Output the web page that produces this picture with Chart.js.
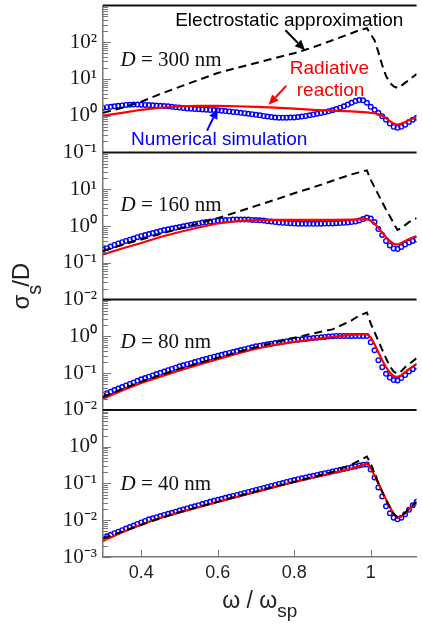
<!DOCTYPE html>
<html>
<head>
<meta charset="utf-8">
<script src="https://cdn.jsdelivr.net/npm/chart.js@4.4.0/dist/chart.umd.min.js"></script>
<style>
  html, body { margin: 0; padding: 0; background: #fff; }
  #wrap { position: relative; width: 422px; height: 633px; }
</style>
</head>
<body>
<div id="wrap"><canvas id="grafico"></canvas></div>
<script>
// Eixo x: frequência normalizada ω / ωsp
const xSim = [
  0.30, 0.31, 0.32, 0.33, 0.34, 0.35, 0.36, 0.37, 0.38, 0.39,
  0.40, 0.41, 0.42, 0.43, 0.44, 0.45, 0.46, 0.47, 0.48, 0.49,
  0.50, 0.51, 0.52, 0.53, 0.54, 0.55, 0.56, 0.57, 0.58, 0.59,
  0.60, 0.61, 0.62, 0.63, 0.64, 0.65, 0.66, 0.67, 0.68, 0.69,
  0.70, 0.71, 0.72, 0.73, 0.74, 0.75, 0.76, 0.77, 0.78, 0.79,
  0.80, 0.81, 0.82, 0.83, 0.84, 0.85, 0.86, 0.87, 0.88, 0.89,
  0.90, 0.91, 0.92, 0.93, 0.94, 0.95, 0.96, 0.97, 0.98, 0.99,
  1.00, 1.01, 1.02, 1.03, 1.04, 1.05, 1.06, 1.07, 1.08, 1.09,
  1.10, 1.11, 1.12
];
const xLine = [
  0.30, 0.35, 0.40, 0.45, 0.50, 0.55, 0.60, 0.65, 0.70, 0.75, 0.80, 0.85, 0.90, 0.95,
  0.97, 0.99, 1.00, 1.01, 1.02, 1.03, 1.04, 1.05, 1.06, 1.07, 1.08, 1.09, 1.10, 1.12
];
const xTicks = [0.4, 0.6, 0.8, 1];

// D = 300 nm
const sim300 = [
  1.65, 1.70, 1.75, 1.81, 1.86, 1.91, 1.96, 1.98, 2.01, 2.01,
  2.00, 1.97, 1.95, 1.92, 1.89, 1.86, 1.83, 1.80, 1.75, 1.71,
  1.67, 1.62, 1.58, 1.55, 1.52, 1.50, 1.48, 1.46, 1.44, 1.43,
  1.41, 1.37, 1.34, 1.31, 1.27, 1.24, 1.20, 1.17, 1.13, 1.10,
  1.06, 1.025, 0.988, 0.951, 0.917, 0.894, 0.883, 0.883, 0.883, 0.889,
  0.900, 0.922, 0.951, 0.988, 1.03, 1.08, 1.13, 1.19, 1.25, 1.32,
  1.41, 1.52, 1.65, 1.81, 2.01, 2.25, 2.50, 2.67, 2.62, 2.25,
  1.75, 1.45, 1.20, 0.97, 0.78, 0.61, 0.50, 0.47, 0.50, 0.57,
  0.67, 0.78, 0.88
];
const rad300 = [1.0, 1.2, 1.45, 1.65, 1.81, 1.86, 1.86, 1.81, 1.75, 1.65, 1.55, 1.45, 1.37, 1.32,
  1.28, 1.24, 1.2, 1.17, 1.1, 1.0, 0.86, 0.71, 0.61, 0.57, 0.61, 0.67, 0.76, 0.91];
const es300 = [1.2, 1.65, 2.4, 3.9, 6.1, 9.4, 14.5, 20, 27, 37, 50, 73, 113, 175,
  211, 239, 164, 113, 54, 24, 12.1, 7.8, 6.3, 5.7, 6.5, 7.8, 9.4, 13.7];

// D = 160 nm
const sim160 = [
  0.229, 0.253, 0.279, 0.307, 0.337, 0.364, 0.393, 0.425, 0.459, 0.497,
  0.537, 0.571, 0.608, 0.647, 0.689, 0.733, 0.780, 0.818, 0.856, 0.897,
  0.940, 0.985, 1.03, 1.08, 1.13, 1.18, 1.24, 1.28, 1.32, 1.36,
  1.41, 1.43, 1.45, 1.47, 1.50, 1.50, 1.50, 1.50, 1.50, 1.47,
  1.45, 1.43, 1.41, 1.36, 1.32, 1.28, 1.24, 1.22, 1.205, 1.19,
  1.17, 1.16, 1.15, 1.15, 1.15, 1.15, 1.15, 1.16, 1.17, 1.175,
  1.18, 1.19, 1.205, 1.22, 1.24, 1.28, 1.32, 1.42, 1.55, 1.70,
  1.60, 1.28, 0.83, 0.571, 0.393, 0.297, 0.246, 0.239, 0.271, 0.316,
  0.358, 0.393, 0.432
];
const rad160 = [0.168, 0.246, 0.347, 0.504, 0.689, 0.911, 1.17, 1.365, 1.45, 1.48, 1.48, 1.48, 1.48, 1.50,
  1.52, 1.55, 1.41, 1.17, 0.883, 0.667, 0.504, 0.393, 0.326, 0.312, 0.347, 0.393, 0.445, 0.537];
const es160 = [0.211, 0.306, 0.432, 0.608, 0.856, 1.17, 1.645, 2.39, 3.54, 5.2, 7.8, 11.3, 17, 25.4,
  28.8, 32.6, 18.2, 11.3, 7.15, 4.45, 2.81, 1.86, 1.18, 0.78, 0.88, 1.06, 1.28, 1.65];

// D = 80 nm
const sim80 = [
  0.0259, 0.0285, 0.0314, 0.0346, 0.0381, 0.0420, 0.0462, 0.0509, 0.0560, 0.0617,
  0.0680, 0.0737, 0.0799, 0.0867, 0.0940, 0.102, 0.110, 0.120, 0.130, 0.141,
  0.153, 0.163, 0.175, 0.187, 0.201, 0.215, 0.230, 0.246, 0.264, 0.280,
  0.297, 0.315, 0.334, 0.355, 0.376, 0.399, 0.424, 0.449, 0.477, 0.506,
  0.537, 0.559, 0.582, 0.606, 0.631, 0.657, 0.684, 0.712, 0.742, 0.772,
  0.792, 0.812, 0.832, 0.853, 0.875, 0.897, 0.920, 0.943, 0.966, 0.991,
  1.01, 1.025, 1.025, 1.025, 1.025, 1.025, 1.025, 1.025, 1.025, 1.03,
  0.689, 0.418, 0.225, 0.145, 0.0958, 0.0755, 0.0647, 0.0635, 0.0732, 0.0883,
  0.110, 0.128, 0.150
];
const rad80 = [0.0202, 0.0337, 0.0537, 0.0804, 0.118, 0.170, 0.239, 0.337, 0.459, 0.589, 0.710, 0.830, 0.969, 1.098,
  1.133, 1.154, 0.94, 0.608, 0.369, 0.225, 0.145, 0.103, 0.0829, 0.0781, 0.0883, 0.1065, 0.128, 0.178];
const es80 = [0.0225, 0.0369, 0.0589, 0.0883, 0.132, 0.186, 0.262, 0.369, 0.504, 0.689, 0.911, 1.205, 1.55, 2.71,
  3.69, 4.45, 2.25, 1.30, 0.751, 0.434, 0.254, 0.155, 0.110, 0.0958, 0.113, 0.145, 0.175, 0.254];

// D = 40 nm
const sim40 = [
  0.00332, 0.00366, 0.00403, 0.00444, 0.00489, 0.00538, 0.00593, 0.00653, 0.00719, 0.00792,
  0.00872, 0.00960, 0.0106, 0.0113, 0.0121, 0.0130, 0.0139, 0.0149, 0.0159, 0.0171,
  0.0183, 0.0196, 0.0210, 0.0225, 0.0240, 0.0257, 0.0276, 0.0295, 0.0316, 0.0337,
  0.0358, 0.0381, 0.0406, 0.0432, 0.0459, 0.0489, 0.0520, 0.0553, 0.0589, 0.0627,
  0.0667, 0.0710, 0.0755, 0.0804, 0.0856, 0.0911, 0.0969, 0.103, 0.110, 0.117,
  0.124, 0.131, 0.138, 0.146, 0.154, 0.162, 0.171, 0.180, 0.190, 0.200,
  0.211, 0.223, 0.235, 0.247, 0.261, 0.275, 0.290, 0.306, 0.322, 0.330,
  0.239, 0.145, 0.0780, 0.0445, 0.0239, 0.0155, 0.0117, 0.0106, 0.0117, 0.0145,
  0.0192, 0.0254, 0.0316
];
const rad40 = [0.00271, 0.00474, 0.00756, 0.0117, 0.0165, 0.0225, 0.0316, 0.0432, 0.0589, 0.0804, 0.110, 0.145, 0.192, 0.254,
  0.297, 0.347, 0.262, 0.165, 0.1, 0.0608, 0.0369, 0.0232, 0.0150, 0.0117, 0.0124, 0.0155, 0.0198, 0.0307];
const es40 = [0.00316, 0.00489, 0.00756, 0.0113, 0.0165, 0.0232, 0.0316, 0.0445, 0.0608, 0.0829, 0.110, 0.150, 0.204, 0.326,
  0.418, 0.537, 0.347, 0.186, 0.103, 0.0589, 0.0348, 0.0225, 0.0150, 0.0120, 0.0128, 0.0159, 0.0204, 0.0316];

// Ticks do eixo y (décadas) de cada painel
const ticks300 = [0.1, 1, 10, 100];
const ticks160 = [0.01, 0.1, 1, 10];
const ticks80 = [0.01, 0.1, 1];
const ticks40 = [0.001, 0.01, 0.1, 1];

const paineis = [
  { id: "y300", d: "300", min: 0.1, max: 1000, ticks: ticks300, sim: sim300, rad: rad300, es: es300, labelY: 32.6 },
  { id: "y160", d: "160", min: 0.01, max: 100, ticks: ticks160, sim: sim160, rad: rad160, es: es160, labelY: 3.7 },
  { id: "y80", d: "80", min: 0.01, max: 10, ticks: ticks80, sim: sim80, rad: rad80, es: es80, labelY: 0.69 },
  { id: "y40", d: "40", min: 0.001, max: 10, ticks: ticks40, sim: sim40, rad: rad40, es: es40, labelY: 0.094 },
];

// Textos e setas do painel de cima
const notas = [
  { text: "Electrostatic approximation", x: 0.787, y: 393, color: "#000" },
  { text: "Radiative", x: 0.892, y: 18.6, color: "#f00" },
  { text: "reaction", x: 0.895, y: 4.74, color: "#f00" },
  { text: "Numerical simulation", x: 0.604, y: 0.224, color: "#00f" },
];
const setas = [
  { from: [0.777, 211], to: [0.828, 60.8], color: "#000" },
  { from: [0.779, 6.47], to: [0.733, 1.98], color: "#f00" },
  { from: [0.572, 0.393], to: [0.600, 1.55], color: "#00f" },
];

const sup = { "-": "\u207B", "0": "\u2070", "1": "\u00B9", "2": "\u00B2", "3": "\u00B3" };
function rotuloPotencia(v) {
  const e = Math.round(Math.log10(v));
  return "10" + String(e).split("").map((c) => sup[c]).join("");
}

const datasets = [];
paineis.forEach((p) => {
  datasets.push({
    label: "Electrostatic approximation " + p.d,
    data: xLine.map((x, i) => ({ x: x, y: p.es[i] })),
    yAxisID: p.id,
    borderColor: "#000",
    borderWidth: 2,
    borderDash: [8, 5],
    pointRadius: 0,
    tension: 0,
  });
  datasets.push({
    label: "Radiative reaction " + p.d,
    data: xLine.map((x, i) => ({ x: x, y: p.rad[i] })),
    yAxisID: p.id,
    borderColor: "#ff0000",
    borderWidth: 2.2,
    pointRadius: 0,
    tension: 0,
  });
  datasets.push({
    label: "Numerical simulation " + p.d,
    data: xSim.map((x, i) => ({ x: x, y: p.sim[i] })),
    yAxisID: p.id,
    showLine: false,
    pointStyle: "circle",
    pointRadius: 2.3,
    pointBorderWidth: 1.4,
    pointBorderColor: "#0000ff",
    pointBackgroundColor: "rgba(0,0,0,0)",
  });
});

const scales = {
  x: {
    type: "linear",
    position: "bottom",
    min: 0.3,
    max: 1.12,
    grid: { display: false, drawTicks: false },
    border: { color: "#777", width: 1.5 },
    ticks: {
      font: { family: "'Liberation Sans', Arial", size: 18 },
      color: "#222",
      padding: 5,
      callback: (v) => String(v),
    },
    afterBuildTicks: (s) => { s.ticks = xTicks.map((v) => ({ value: v })); },
    afterFit: (s) => { s.height = 76; s.paddingLeft = 0; s.paddingRight = 0; },
  },
};
paineis.forEach((p, i) => {
  scales[p.id] = {
    type: "logarithmic",
    position: "left",
    stack: "paineis",
    stackWeight: Math.round(Math.log10(p.max / p.min)),
    weight: 4 - i,
    min: p.min,
    max: p.max,
    grid: { display: false, drawTicks: false },
    border: { color: "#777", width: 1.5 },
    ticks: {
      autoSkip: false,
      font: { family: "'Liberation Serif', 'Times New Roman'", size: 21 },
      color: "#1a1a1a",
      padding: 6,
      callback: (v) => rotuloPotencia(v),
    },
    afterBuildTicks: (s) => { s.ticks = p.ticks.map((v) => ({ value: v })); },
    afterFit: (s) => { s.width = 103; s.paddingTop = 0; s.paddingBottom = 0; },
  };
});

function seta(ctx, x1, y1, x2, y2, cor) {
  const ang = Math.atan2(y2 - y1, x2 - x1);
  const L = 10, W = 4.5;
  const bx = x2 - L * Math.cos(ang), by = y2 - L * Math.sin(ang);
  ctx.strokeStyle = cor;
  ctx.fillStyle = cor;
  ctx.lineWidth = 2;
  ctx.beginPath();
  ctx.moveTo(x1, y1);
  ctx.lineTo(bx, by);
  ctx.stroke();
  ctx.beginPath();
  ctx.moveTo(x2, y2);
  ctx.lineTo(bx + W * Math.sin(ang), by - W * Math.cos(ang));
  ctx.lineTo(bx - W * Math.sin(ang), by + W * Math.cos(ang));
  ctx.closePath();
  ctx.fill();
}

// Ticks para dentro, divisórias, textos e títulos
const decoracao = {
  id: "decoracao",
  afterDraw(chart) {
    const ctx = chart.ctx;
    const area = chart.chartArea;
    const sx = chart.scales.x;
    ctx.save();

    // ticks menores e maiores para dentro
    ctx.strokeStyle = "#777";
    ctx.lineWidth = 1;
    paineis.forEach((p) => {
      const s = chart.scales[p.id];
      for (let e = Math.round(Math.log10(p.min)); e < Math.round(Math.log10(p.max)); e++) {
        for (let k = 1; k <= 9; k++) {
          const py = Math.round(s.getPixelForValue(k * Math.pow(10, e))) + 0.5;
          const len = k === 1 ? 8 : 5;
          ctx.beginPath();
          ctx.moveTo(area.left, py);
          ctx.lineTo(area.left + len, py);
          ctx.stroke();
        }
      }
    });
    xTicks.forEach((v) => {
      const px = Math.round(sx.getPixelForValue(v)) + 0.5;
      ctx.beginPath();
      ctx.moveTo(px, area.bottom);
      ctx.lineTo(px, area.bottom - 7);
      ctx.stroke();
    });

    // divisórias entre painéis
    ctx.strokeStyle = "#111";
    ctx.lineWidth = 2;
    paineis.forEach((p) => {
      const s = chart.scales[p.id];
      ctx.beginPath();
      ctx.moveTo(area.left, s.top);
      ctx.lineTo(area.right, s.top);
      ctx.stroke();
    });

    // D = ... nm
    ctx.textBaseline = "middle";
    ctx.textAlign = "left";
    ctx.fillStyle = "#111";
    paineis.forEach((p) => {
      const s = chart.scales[p.id];
      const x0 = sx.getPixelForValue(0.346);
      const y0 = s.getPixelForValue(p.labelY);
      ctx.font = "italic 21px 'Liberation Serif'";
      ctx.fillText("D", x0, y0);
      const w = ctx.measureText("D").width;
      ctx.font = "21px 'Liberation Serif'";
      ctx.fillText(" = " + p.d + " nm", x0 + w, y0);
    });

    // textos e setas do painel de cima
    const s1 = chart.scales.y300;
    ctx.textAlign = "center";
    ctx.font = "19px 'Liberation Sans'";
    notas.forEach((n) => {
      ctx.fillStyle = n.color;
      ctx.fillText(n.text, sx.getPixelForValue(n.x), s1.getPixelForValue(n.y));
    });
    setas.forEach((a) => {
      seta(ctx,
        sx.getPixelForValue(a.from[0]), s1.getPixelForValue(a.from[1]),
        sx.getPixelForValue(a.to[0]), s1.getPixelForValue(a.to[1]), a.color);
    });

    // título do eixo x: ω / ωsp
    ctx.fillStyle = "#222";
    ctx.textAlign = "left";
    ctx.textBaseline = "alphabetic";
    ctx.font = "23px 'Liberation Sans'";
    const tx = "\u03C9 / \u03C9";
    const w1 = ctx.measureText(tx).width;
    ctx.font = "19px 'Liberation Sans'";
    const w2 = ctx.measureText("sp").width;
    const cx = (area.left + area.right) / 2;
    const base = 608;
    ctx.font = "23px 'Liberation Sans'";
    ctx.fillText(tx, cx - (w1 + w2) / 2, base);
    ctx.font = "19px 'Liberation Sans'";
    ctx.fillText("sp", cx - (w1 + w2) / 2 + w1, base + 9);

    // título do eixo y: σs/D
    ctx.translate(29, (area.top + area.bottom) / 2 + 5);
    ctx.rotate(-Math.PI / 2);
    ctx.font = "24px 'Liberation Sans'";
    const ws = ctx.measureText("\u03C3").width;
    const wd = ctx.measureText("/D").width;
    ctx.font = "20px 'Liberation Sans'";
    const wsub = ctx.measureText("s").width - 2;
    let px = -(ws + wsub + wd) / 2;
    ctx.font = "24px 'Liberation Sans'";
    ctx.fillText("\u03C3", px, 0);
    px += ws;
    ctx.font = "20px 'Liberation Sans'";
    ctx.fillText("s", px, 12);
    px += wsub;
    ctx.font = "24px 'Liberation Sans'";
    ctx.fillText("/D", px, 0);

    ctx.restore();
  },
};

const ctx = document.getElementById("grafico").getContext("2d");

const grafico = new Chart(ctx, {
  type: "line",
  data: { datasets: datasets },
  options: {
    responsive: true,
    maintainAspectRatio: false,
    animation: false,
    devicePixelRatio: 1,
    layout: { padding: { top: 2, left: 0, right: 0, bottom: 0 } },
    plugins: {
      legend: { display: false },
      tooltip: { enabled: false },
    },
    scales: scales,
  },
  plugins: [decoracao],
});
</script>
</body>
</html>
